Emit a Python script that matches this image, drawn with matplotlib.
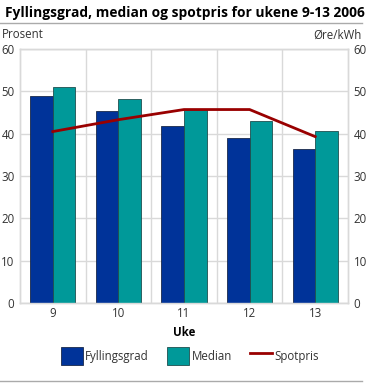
import matplotlib.pyplot as plt
import numpy as np
from matplotlib.lines import Line2D

weeks = ["9", "10", "11", "12", "13"]
fyllingsgrad = [48.9, 45.4, 41.9, 38.9, 36.4]
median = [51.0, 48.1, 45.6, 43.0, 40.6]
spotpris = [40.5, 43.3, 45.7, 45.7, 39.3]

BLUE = "#003399"
TEAL = "#009999"
RED = "#990000"
GRID = "#d9d9d9"
TXT = "#333333"

plt.rcParams["font.family"] = ["Open Sans", "DejaVu Sans"]

fig = plt.figure(figsize=(3.66, 3.83), dpi=100)
ax = fig.add_axes([20 / 366, 80 / 383, 328 / 366, 254 / 383])
ax2 = ax.twinx()

x = np.arange(len(weeks))
w = 0.345
ax.bar(x - w / 2, fyllingsgrad, w, color=BLUE, edgecolor="#1a2a4a", lw=0.6, zorder=3)
ax.bar(x + w / 2, median, w, color=TEAL, edgecolor="#1f4f4f", lw=0.6, zorder=3)
ax2.plot(x, spotpris, color=RED, lw=2, zorder=4)

for a in (ax, ax2):
    a.set_ylim(0, 60)
    a.set_xlim(-0.5, len(weeks) - 0.5)
    a.set_yticks(range(0, 61, 10))
    a.tick_params(length=0, labelsize=8.3, labelcolor=TXT, pad=4)
    for sp in a.spines.values():
        sp.set_color(GRID)
        sp.set_linewidth(1)

ax.set_xticks(x)
ax.set_xticklabels(weeks)
ax.tick_params(axis="x", pad=3)
ax.set_xticks(np.arange(0.5, len(weeks) - 1, 1), minor=True)
ax.tick_params(axis="x", which="minor", length=0)
ax.grid(True, axis="y", color=GRID, lw=1, zorder=0)
ax.grid(True, axis="x", which="minor", color=GRID, lw=1, zorder=0)
ax.set_axisbelow(True)

ax.set_xlabel("Uke", fontsize=8.3, fontweight="bold", color="black", labelpad=4)

fig.text(5 / 366, 1 - 13 / 383, "Fyllingsgrad, median og spotpris for ukene 9-13 2006",
         fontsize=9.9, fontweight="bold", va="center", ha="left")
fig.add_artist(Line2D([0, 362 / 366], [1 - 23 / 383] * 2, color="#aaaaaa", lw=1))
fig.add_artist(Line2D([0, 362 / 366], [1 - 381 / 383] * 2, color="#aaaaaa", lw=1))
fig.text(2 / 366, 1 - 35 / 383, "Prosent", fontsize=8.3, color=TXT, va="center")
fig.text(362 / 366, 1 - 35 / 383, "Øre/kWh", fontsize=8.3, color=TXT, va="center", ha="right")

handles = [
    plt.Rectangle((0, 0), 1, 1, facecolor=BLUE, edgecolor="#1a2a4a", lw=0.6),
    plt.Rectangle((0, 0), 1, 1, facecolor=TEAL, edgecolor="#1f4f4f", lw=0.6),
    Line2D([0], [0], color=RED, lw=2),
]
fig.legend(handles, ["Fyllingsgrad", "Median", "Spotpris"], ncol=3, frameon=False,
           loc="center", bbox_to_anchor=(190 / 366, 1 - 356 / 383), fontsize=8.3,
           handlelength=1.9, handleheight=2.1, handletextpad=0.2, columnspacing=1.6,
           labelcolor=TXT)

fig.savefig("out.png", dpi=100)
